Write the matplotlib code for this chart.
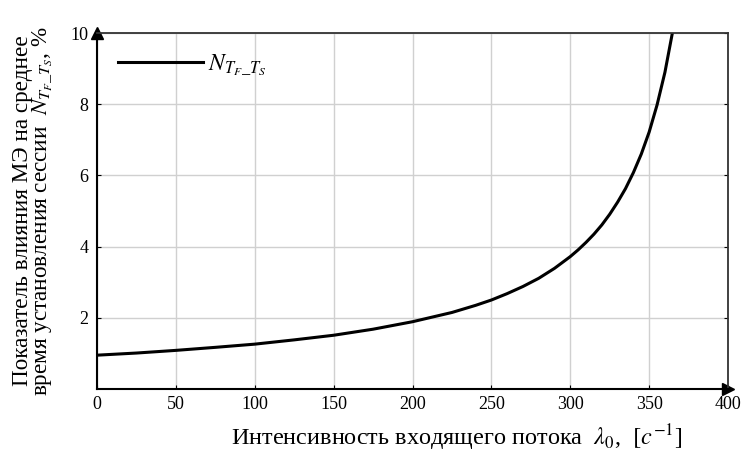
import matplotlib.pyplot as plt
import numpy as np

plt.rcParams['font.family'] = ['Liberation Serif', 'DejaVu Serif']
plt.rcParams['mathtext.fontset'] = 'stix'

# intensity of incoming flow, 1/s
lam = [0, 25, 50, 75, 100, 125, 150, 175, 200, 225, 240, 250, 260, 270, 280, 290, 300,
       305, 310, 315, 320, 325, 330, 335, 340, 345, 350, 355, 360, 365]
# N_{TF_TS}, %
n_val = [0.95, 1.01, 1.085, 1.17, 1.26, 1.38, 1.51, 1.68, 1.89, 2.15, 2.35, 2.50, 2.68,
         2.88, 3.11, 3.39, 3.72, 3.91, 4.12, 4.35, 4.61, 4.91, 5.25, 5.63, 6.08, 6.60,
         7.22, 7.98, 8.90, 10.07]

xticks = [0, 50, 100, 150, 200, 250, 300, 350, 400]
yticks = [2, 4, 6, 8, 10]

fig = plt.figure(figsize=(7.42, 4.53), dpi=100)
ax = fig.add_axes([0.1307, 0.1413, 0.8505, 0.7857])

ax.plot(lam, n_val, color='black', lw=2.2, label=r'$N_{T_F\_T_S}$')

ax.set_xlim(0, 400)
ax.set_ylim(0, 10)
ax.set_xticks(xticks)
ax.set_yticks(yticks)
ax.grid(True, color='#d0d0d0', lw=1)
ax.tick_params(direction='in', length=3, labelsize=13, right=True, top=False)
ax.tick_params(axis='x', pad=5)
ax.tick_params(axis='y', pad=6)

for s in ['left', 'bottom']:
    ax.spines[s].set_linewidth(1.5)
for s in ['top', 'right']:
    ax.spines[s].set_linewidth(1.3)
    ax.spines[s].set_color('#333333')

# arrows on the axes
ax.plot(1, 0, '>k', ms=9, transform=ax.transAxes, clip_on=False)
ax.plot(0, 1, '^k', ms=9, transform=ax.transAxes, clip_on=False)

ax.set_xlabel(r'Интенсивность входящего потока  $\lambda_0$,  $[c^{-1}]$', fontsize=17.5)
ax.xaxis.set_label_coords(0.57, -0.093)
ax.set_ylabel('Показатель влияния МЭ на среднее\n'
              r'время установления сессии  $N_{T_F\_T_S}$, %', fontsize=16.7, linespacing=0.92)
ax.yaxis.set_label_coords(-0.066, 0.5)

ax.legend(loc='upper left', frameon=False, fontsize=17, handlelength=3.6,
          handletextpad=0.2, bbox_to_anchor=(0.0, 1.005))

plt.savefig('out.png', dpi=100)
